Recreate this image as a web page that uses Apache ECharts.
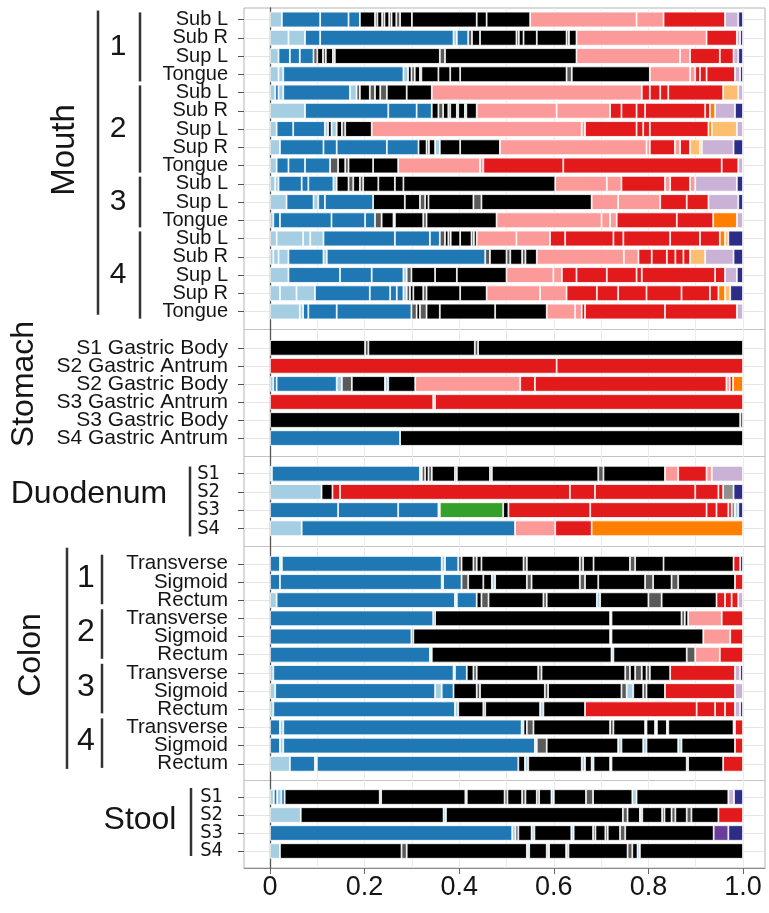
<!DOCTYPE html>
<html>
<head>
<meta charset="utf-8">
<script src="https://cdn.jsdelivr.net/npm/echarts@6/dist/echarts.min.js"></script>
<style>
  html, body { margin: 0; padding: 0; background: #fff; }
  #chart { width: 769px; height: 913px; }
</style>
</head>
<body>
<div id="chart"></div>
<script>
// ---- data: each bar is a flat list of [taxon group, percent] pairs, left to right ----
const mouthRows = ["Sub L", "Sub R", "Sup L", "Tongue", "Sub L", "Sub R", "Sup L", "Sup R", "Tongue",
  "Sub L", "Sup L", "Tongue", "Sub L", "Sub R", "Sup L", "Sup R", "Tongue"];
const mouthBars = [
  ["lb",2.5,"b",8.1,"b",6.0,"b",2.4,"k",3.2,"gr",.5,"k",1,"gr",.5,"k",1,"gr",.5,"k",1,"gr",.8,"k",2.5,"k",13.7,"k",2.1,"k",9.2,"p",22.5,"p",5.7,"r",13.0,"v",2.8,"n",1.0],
  ["lb",3.9,"lb",3.5,"b",3.2,"b",28.2,"lb",.7,"b",2.4,"gr",.8,"k",1.7,"k",7.7,"gr",.5,"k",1.0,"k",2.8,"k",6.3,"gr",.5,"k",1.6,"p",27.5,"r",6.4,"v",.7,"n",.6],
  ["lb",1.8,"b",2.4,"b",2.1,"b",2.9,"gr",.8,"k",1.2,"gr",.6,"k",1.5,"gr",.4,"k",22.2,"gr",1.1,"k",27.8,"p",21.9,"p",2.1,"r",6.3,"r",2.9,"v",1.0,"n",1.0],
  ["lb",1.8,"lb",1.0,"b",25.4,"lb",1.0,"k",.7,"gr",.7,"k",1.1,"gr",.3,"k",3.6,"k",2.5,"k",2.1,"k",22.5,"gr",1.1,"k",16.5,"p",8.5,"p",1.1,"r",1.0,"r",1.4,"r",6.0,"v",1.1,"n",.6],
  ["lb",1.1,"b",.7,"lb",1.0,"b",14.1,"lb",1.4,"gr",.7,"k",2.1,"gr",1.1,"k",1.1,"gr",1.4,"k",4.2,"k",5.3,"p",44.4,"r",1.7,"r",2.2,"r",1.7,"r",11.6,"y",3.2,"v",1.0],
  ["lb",7.4,"b",17.6,"b",6.0,"b",3.2,"k",1.4,"gr",1.0,"k",1.1,"gr",.4,"k",1.4,"gr",.3,"k",1.4,"gr",.3,"k",2.2,"p",16.9,"p",11.3,"r",2.4,"r",3.2,"r",1.8,"r",12.7,"r",1.0,"o",1.1,"v",4.2,"n",1.7],
  ["lb",1.4,"b",3.5,"b",6.7,"lb",.7,"k",.7,"lb",1.1,"k",1.1,"gr",.7,"k",5.6,"p",44.4,"p",.7,"r",10.9,"r",1.4,"r",1.4,"r",12.4,"o",.7,"y",5.3,"v",1.3],
  ["lb",2.1,"b",9.2,"b",2.8,"b",10.6,"b",6.7,"k",1.7,"gr",.5,"k",1.3,"lb",1.0,"k",4.3,"k",8.4,"p",31.0,"p",.7,"r",5.3,"p",1.1,"r",2.1,"y",2.1,"o",.4,"v",6.7,"n",2.0],
  ["lb",1.4,"b",2.5,"b",3.5,"b",5.3,"gr",1.7,"k",1.5,"gr",.7,"k",5.2,"k",5.3,"p",17.3,"p",.7,"r",16.9,"r",33.5,"r",3.5,"v",1.0],
  ["lb",1.1,"lb",.7,"b",4.9,"b",1.4,"b",5.3,"lb",.7,"k",2.5,"gr",1.0,"k",1.4,"gr",.7,"k",3.2,"k",3.5,"k",1.8,"k",32.1,"p",10.9,"p",3.1,"r",9.2,"p",1.1,"r",4.2,"p",1.1,"v",8.8,"n",1.3],
  ["lb",3.5,"b",5.7,"lb",1.0,"b",1.4,"b",10.2,"k",6.7,"k",3.2,"gr",1.1,"k",.7,"k",9.5,"gr",1.7,"k",23.3,"p",5.6,"p",8.9,"r",5.6,"r",4.6,"v",6.3,"n",1.0],
  ["lb",.7,"b",1.4,"b",10.9,"b",7.1,"b",2.1,"gr",1.4,"k",2.5,"gr",.3,"k",6.0,"gr",.7,"k",14.8,"p",22.2,"p",1.8,"p",1.4,"r",12.7,"r",7.7,"o",5.0,"v",1.3],
  ["lb",1.4,"lb",5.6,"lb",1.5,"lb",2.8,"b",15.1,"b",7.4,"b",2.1,"gr",1.1,"k",.7,"gr",.5,"k",2.0,"k",2.4,"gr",.5,"k",.6,"p",8.4,"p",7.1,"r",3.2,"r",10.2,"r",2.1,"r",9.9,"r",6.3,"r",4.2,"o",1.1,"y",.7,"n",3.1],
  ["lb",.7,"lb",1.1,"lb",2.1,"b",7.4,"lb",.7,"b",33.5,"gr",1.0,"k",3.5,"gr",.8,"k",2.5,"gr",.7,"k",2.4,"p",18.4,"p",3.1,"r",2.8,"r",3.2,"r",1.8,"r",1.7,"r",1.4,"y",3.2,"v",6.0,"n",2.0],
  ["lb",3.9,"b",10.9,"b",6.7,"b",6.7,"lb",.7,"gr",1.0,"k",5.0,"k",4.6,"k",10.5,"p",9.9,"p",1.8,"r",3.1,"r",6.4,"r",6.3,"r",1.1,"r",15.5,"r",2.1,"v",2.5,"n",1.3],
  ["lb",2.1,"lb",3.5,"lb",3.9,"b",11.6,"b",4.3,"b",1.4,"b",1.4,"lb",.7,"gr",.7,"k",.7,"k",2.1,"gr",.7,"k",7.1,"k",5.6,"p",11.3,"p",5.6,"r",6.4,"r",4.5,"r",6.0,"r",7.4,"r",6.0,"r",1.8,"o",1.4,"y",1.1,"n",2.7],
  ["lb",6.3,"lb",.7,"b",1.1,"b",6.0,"b",15.8,"gr",1.1,"k",.7,"gr",1.4,"k",2.8,"k",11.7,"k",10.9,"p",6.0,"p",1.4,"r",.7,"r",16.9,"r",15.2,"v",1.3]
];

const stomachRows = ["S1 Gastric Body", "S2 Gastric Antrum", "S2 Gastric Body", "S3 Gastric Antrum", "S3 Gastric Body", "S4 Gastric Antrum"];
const stomachBars = [
  ["k",20.1,"gr",.7,"k",22.5,"gr",.7,"k",56.0],
  ["r",60.6,"r",39.4],
  ["lb",.7,"b",.7,"b",12.7,"lb",1.1,"gr",2.1,"k",7.0,"lb",.7,"k",5.7,"p",22.2,"r",3.1,"r",40.5,"p",.7,"r",.7,"o",2.1],
  ["r",34.5,"p",.4,"r",65.1],
  ["k",99.4,"gr",.6],
  ["b",27.5,"k",72.5]
];

const duodenumRows = ["S1", "S2", "S3", "S4"];
const duodenumBars = [
  ["lb",.4,"b",31.3,"lb",.4,"gr",.7,"k",.7,"gr",.7,"k",4.9,"gr",.4,"k",7.0,"gr",.4,"k",22.5,"gr",1.1,"k",13.0,"p",2.8,"r",6.0,"p",1.1,"v",6.6],
  ["lb",10.9,"k",2.3,"r",1.6,"r",48.6,"r",5.3,"r",21.2,"r",4.9,"r",1.0,"gy",2.2,"n",2.0],
  ["b",14.4,"b",12.7,"b",8.5,"lb",.3,"g",13.4,"k",1.1,"r",17.3,"r",24.6,"r",2.1,"r",2.5,"r",.7,"gy",.7,"lb",.7,"n",1.0],
  ["lb",6.7,"b",45.1,"p",8.5,"r",7.7,"o",32.0]
];

const colonRows = ["Transverse", "Sigmoid", "Rectum", "Transverse", "Sigmoid", "Rectum",
  "Transverse", "Sigmoid", "Rectum", "Transverse", "Sigmoid", "Rectum"];
const colonBars = [
  ["b",2.1,"lb",.4,"b",33.8,"lb",.7,"b",2.8,"gr",.7,"k",2.5,"gr",.7,"k",1.0,"k",8.9,"gr",.7,"k",11.2,"gr",.7,"k",2.2,"k",7.7,"gr",1.1,"k",6.0,"k",14.8,"r",1.4,"n",.6],
  ["b",2.1,"b",34.2,"lb",.3,"b",3.9,"gr",1.4,"k",3.2,"k",1.8,"lb",.7,"k",6.7,"gr",1.0,"k",10.2,"gr",1.1,"k",2.8,"k",9.9,"gr",1.7,"k",3.9,"gr",1.4,"k",12.0,"r",1.7],
  ["lb",1.4,"b",37.7,"lb",.4,"b",4.2,"k",1.0,"gr",1.5,"k",11.6,"gr",.7,"k",10.6,"lb",.7,"k",10.2,"gr",2.8,"k",11.6,"r",1.8,"r",1.4,"r",1.4,"v",1.0],
  ["b",34.5,"gr",.4,"k",37.0,"lb",.3,"k",14.8,"gr",.7,"k",.7,"p",7.1,"r",4.5],
  ["b",29.9,"gr",.4,"k",41.6,"lb",.3,"k",19.4,"p",5.7,"r",2.7],
  ["b",33.8,"lb",.4,"k",38.0,"lb",.4,"k",15.5,"gr",1.8,"p",5.2,"r",4.9],
  ["lb",.7,"b",38.1,"lb",.3,"b",2.5,"k",1.4,"gr",.7,"k",13.0,"gr",.7,"k",17.7,"gr",1.0,"k",1.1,"gr",1.4,"k",1.0,"gr",.7,"k",4.3,"r",13.7,"v",1.1,"n",.6],
  ["lb",1.1,"b",33.8,"lb",1.4,"b",2.5,"k",4.9,"gr",.7,"k",13.7,"gr",.7,"k",15.5,"gr",1.1,"lb",1.4,"k",2.1,"gr",.7,"k",3.9,"r",14.8,"v",1.7],
  ["lb",.7,"b",38.4,"lb",.7,"k",5.3,"gr",.4,"k",11.6,"lb",.7,"k",8.8,"r",23.6,"r",3.9,"r",2.1,"r",2.1,"v",1.1,"n",.6],
  ["b",2.1,"lb",.7,"b",50.4,"lb",.4,"k",.7,"gr",1.4,"k",16.2,"gr",.7,"k",6.7,"lb",.3,"k",1.8,"lb",.4,"k",2.1,"lb",.3,"k",13.8,"gr",.3,"r",1.7],
  ["b",2.1,"lb",.7,"b",53.2,"lb",.4,"gr",2.1,"k",15.1,"lb",.7,"k",4.6,"lb",.7,"k",6.7,"lb",.7,"k",11.3,"r",1.7],
  ["lb",4.2,"b",5.3,"lb",.4,"b",42.6,"k",1.4,"lb",.7,"k",11.3,"lb",.7,"k",1.4,"lb",.4,"k",3.5,"lb",.3,"k",15.9,"gr",.3,"k",7.4,"r",4.2]
];

const stoolRows = ["S1", "S2", "S3", "S4"];
const stoolBars = [
  ["lb",.8,"b",.7,"lb",.9,"b",.7,"k",20.1,"gr",.3,"k",17.8,"gr",.3,"k",8.0,"gr",.6,"k",3.1,"gr",.7,"k",2.4,"gr",.5,"k",2.6,"lb",.5,"k",6.8,"gr",1.5,"k",8.3,"lb",.9,"k",19.4,"v",1.2,"n",1.9],
  ["lb",6.5,"k",30.2,"lb",.5,"k",37.4,"gr",1.0,"k",2.6,"lb",.5,"k",4.2,"gr",.5,"k",1.5,"gr",.8,"k",2.4,"gr",1.0,"k",5.7,"r",5.2],
  ["b",51.2,"lb",.7,"gr",.6,"k",2.8,"lb",.6,"k",7.8,"lb",.5,"k",4.1,"gr",.5,"k",2.1,"gr",.5,"k",2.6,"gr",1.1,"k",18.7,"pu",3.1,"n",3.1],
  ["lb",2.1,"k",25.7,"gr",1.1,"k",25.4,"lb",.5,"k",3.7,"lb",.5,"k",3.6,"lb",.5,"k",12.5,"gr",1.0,"k",1.1,"lb",.5,"k",21.8]
];

const xTickValues = [0, 0.2, 0.4, 0.6, 0.8, 1.0];
const xGridValues = [0, 0.1, 0.2, 0.3, 0.4, 0.5, 0.6, 0.7, 0.8, 0.9, 1.0];

// row index ranges of the numbered sub groups
const mouthGroups = [[0, 3], [4, 8], [9, 11], [12, 16]];
const colonGroups = [[0, 2], [3, 5], [6, 8], [9, 11]];

// ---- styling / layout ----
const FONT = '"Liberation Sans", Arial, Helvetica, sans-serif';
const NARROW = '"Liberation Sans Narrow", "DejaVu Sans Condensed", "Liberation Sans", sans-serif';
const TEXT = "#151515";
const COLORS = {
  lb: "#a6cee3", b: "#1f78b4", k: "#000000", gr: "#5a5a5a", p: "#fb9a99", r: "#e31a1c",
  v: "#cab2d6", n: "#2b2d86", o: "#ff7f00", y: "#fdbf6f", g: "#33a02c", pu: "#6a3d9a", gy: "#8f8f8f"
};
const XMIN = -0.055, XMAX = 1.0465;
const PLOT = { left: 244, right: 4, top: 8, bottom: 45 };

const sections = [
  { rows: mouthRows, bars: mouthBars, top: 10.4, height: 310.25, fontSize: 20, font: FONT, margin: 16 },
  { rows: stomachRows, bars: stomachBars, top: 338.8, height: 108.3, fontSize: 21, font: FONT, margin: 16 },
  { rows: duodenumRows, bars: duodenumBars, top: 464.6, height: 72.8, fontSize: 20, font: NARROW, margin: 24 },
  { rows: colonRows, bars: colonBars, top: 554.7, height: 218.2, fontSize: 20.5, font: FONT, margin: 16 },
  { rows: stoolRows, bars: stoolBars, top: 788, height: 72, fontSize: 20, font: NARROW, margin: 21 }
];

// faint separators between the body sites (midway between sections)
const gaps = [];
for (let s = 0; s < sections.length - 1; s++) {
  gaps.push((sections[s].top + sections[s].height + sections[s + 1].top) / 2);
}

const grids = [{
  left: PLOT.left, right: PLOT.right, top: PLOT.top, bottom: PLOT.bottom,
  show: true, borderColor: "#b4b4b4", borderWidth: 1
}];
const xAxes = [
  {
    gridIndex: 0, type: "value", min: XMIN, max: XMAX, position: "bottom",
    axisLine: { show: true, lineStyle: { color: "#8a8a8a", width: 1 } },
    axisTick: { show: true, length: 6, customValues: xTickValues, lineStyle: { color: "#666" } },
    axisLabel: {
      customValues: xTickValues, fontSize: 27, color: TEXT, fontFamily: FONT, margin: 6,
      formatter: (v) => (v === 0 ? "0" : v.toFixed(1))
    },
    splitLine: { show: false }
  },
  {
    gridIndex: 0, type: "value", min: XMIN, max: XMAX, position: "top",
    axisLine: { show: false },
    axisTick: { show: false, customValues: xGridValues },
    axisLabel: { show: false },
    splitLine: { show: true, lineStyle: { color: "#ebebeb", width: 1 } }
  }
];
const yAxes = [
  {
    gridIndex: 0, type: "value", min: PLOT.top, max: 913 - PLOT.bottom, inverse: true, position: "left",
    axisLine: { show: true, lineStyle: { color: "#555", width: 1.3 } },
    axisTick: { show: false }, axisLabel: { show: false }, splitLine: { show: false }
  },
  {
    gridIndex: 0, type: "value", min: PLOT.top, max: 913 - PLOT.bottom, inverse: true, position: "right",
    axisLine: { show: false },
    axisTick: { show: false, customValues: gaps }, axisLabel: { show: false },
    splitLine: { show: true, lineStyle: { color: "#c4c4c4", width: 1 } }
  }
];
const series = [];

sections.forEach((sec, s) => {
  const gi = s + 1;
  const n = sec.rows.length;
  grids.push({ left: PLOT.left, right: PLOT.right, top: sec.top, height: sec.height });
  xAxes.push({ gridIndex: gi, type: "value", min: XMIN, max: XMAX, show: false });
  const xi = xAxes.length - 1;

  // faint guide line through the middle of every row
  yAxes.push({
    gridIndex: gi, type: "value", min: -0.5, max: n - 0.5, inverse: true, position: "right",
    axisLine: { show: false }, axisLabel: { show: false },
    axisTick: { show: false, customValues: sec.rows.map((_, i) => i) },
    splitLine: { show: true, lineStyle: { color: "#e6e6e6", width: 1 } }
  });
  yAxes.push({
    gridIndex: gi, type: "category", inverse: true, data: sec.rows, position: "left",
    axisLine: { show: false },
    axisTick: { show: true, interval: 0, alignWithLabel: true, length: 6, lineStyle: { color: "#555" } },
    axisLabel: { interval: 0, fontSize: sec.fontSize, color: TEXT, fontFamily: sec.font, margin: sec.margin },
    splitLine: { show: false }
  });
  const yi = yAxes.length - 1;

  const segs = sec.bars.map((flat) => {
    const out = [];
    for (let i = 0; i < flat.length; i += 2) out.push([flat[i], flat[i + 1]]);
    return out;
  });
  const depth = Math.max(...segs.map((r) => r.length));

  for (let j = 0; j < depth; j++) {
    series.push({
      type: "bar", xAxisIndex: xi, yAxisIndex: yi, stack: "site" + s,
      barCategoryGap: "14%", silent: true,
      itemStyle: { borderColor: "#ffffff", borderWidth: 0.8 },
      data: segs.map((row) =>
        row[j] ? { value: row[j][1] / 100, itemStyle: { color: COLORS[row[j][0]] } } : "-"
      )
    });
  }
});

// ---- group annotations on the left ----
function span(sec, a, b, pad) {
  const band = sec.height / sec.rows.length;
  return [sec.top + a * band + pad, sec.top + (b + 1) * band - pad];
}
function label(text, x, y, size, rot) {
  return {
    type: "text", x: x, y: y, rotation: rot || 0, silent: true,
    style: {
      text: text, x: 0, y: 0, fill: TEXT, font: size + "px " + FONT,
      align: "center", verticalAlign: "middle", textAlign: "center", textVerticalAlign: "middle"
    }
  };
}
function vline(x, y1, y2) {
  return { type: "line", silent: true, shape: { x1: x, y1: y1, x2: x, y2: y2 }, style: { stroke: "#333", lineWidth: 2.5 } };
}

const graphic = [];
const mouth = sections[0], duo = sections[2], colon = sections[3], stool = sections[4];

graphic.push(label("Mouth", 65, 150, 33, Math.PI / 2));
graphic.push(vline(98, mouth.top, mouth.top + mouth.height - 6));
mouthGroups.forEach((g, i) => {
  const [y1, y2] = span(mouth, g[0], g[1], 2);
  graphic.push(vline(140, y1, y2));
  graphic.push(label(String(i + 1), 118, (y1 + y2) / 2, 30));
});

graphic.push(label("Stomach", 24, 384, 32, Math.PI / 2));

graphic.push(label("Duodenum", 89, 494, 32));
graphic.push(vline(190, duo.top + 2, duo.top + duo.height - 1));

graphic.push(label("Colon", 31, 655, 32, Math.PI / 2));
graphic.push(vline(67, colon.top - 7, colon.top + colon.height - 4));
colonGroups.forEach((g, i) => {
  const [y1, y2] = span(colon, g[0], g[1], 2);
  graphic.push(vline(102, y1 - 2, y2 - 3));
  graphic.push(label(String(i + 1), 86, (y1 + y2) / 2 - 4, 32));
});

graphic.push(label("Stool", 140, 820, 32));
graphic.push(vline(191, stool.top, stool.top + stool.height - 4));

const chart = echarts.init(document.getElementById("chart"), null, { renderer: "canvas" });
chart.setOption({
  animation: false,
  backgroundColor: "#ffffff",
  grid: grids,
  xAxis: xAxes,
  yAxis: yAxes,
  series: series,
  graphic: graphic
});
</script>
</body>
</html>
